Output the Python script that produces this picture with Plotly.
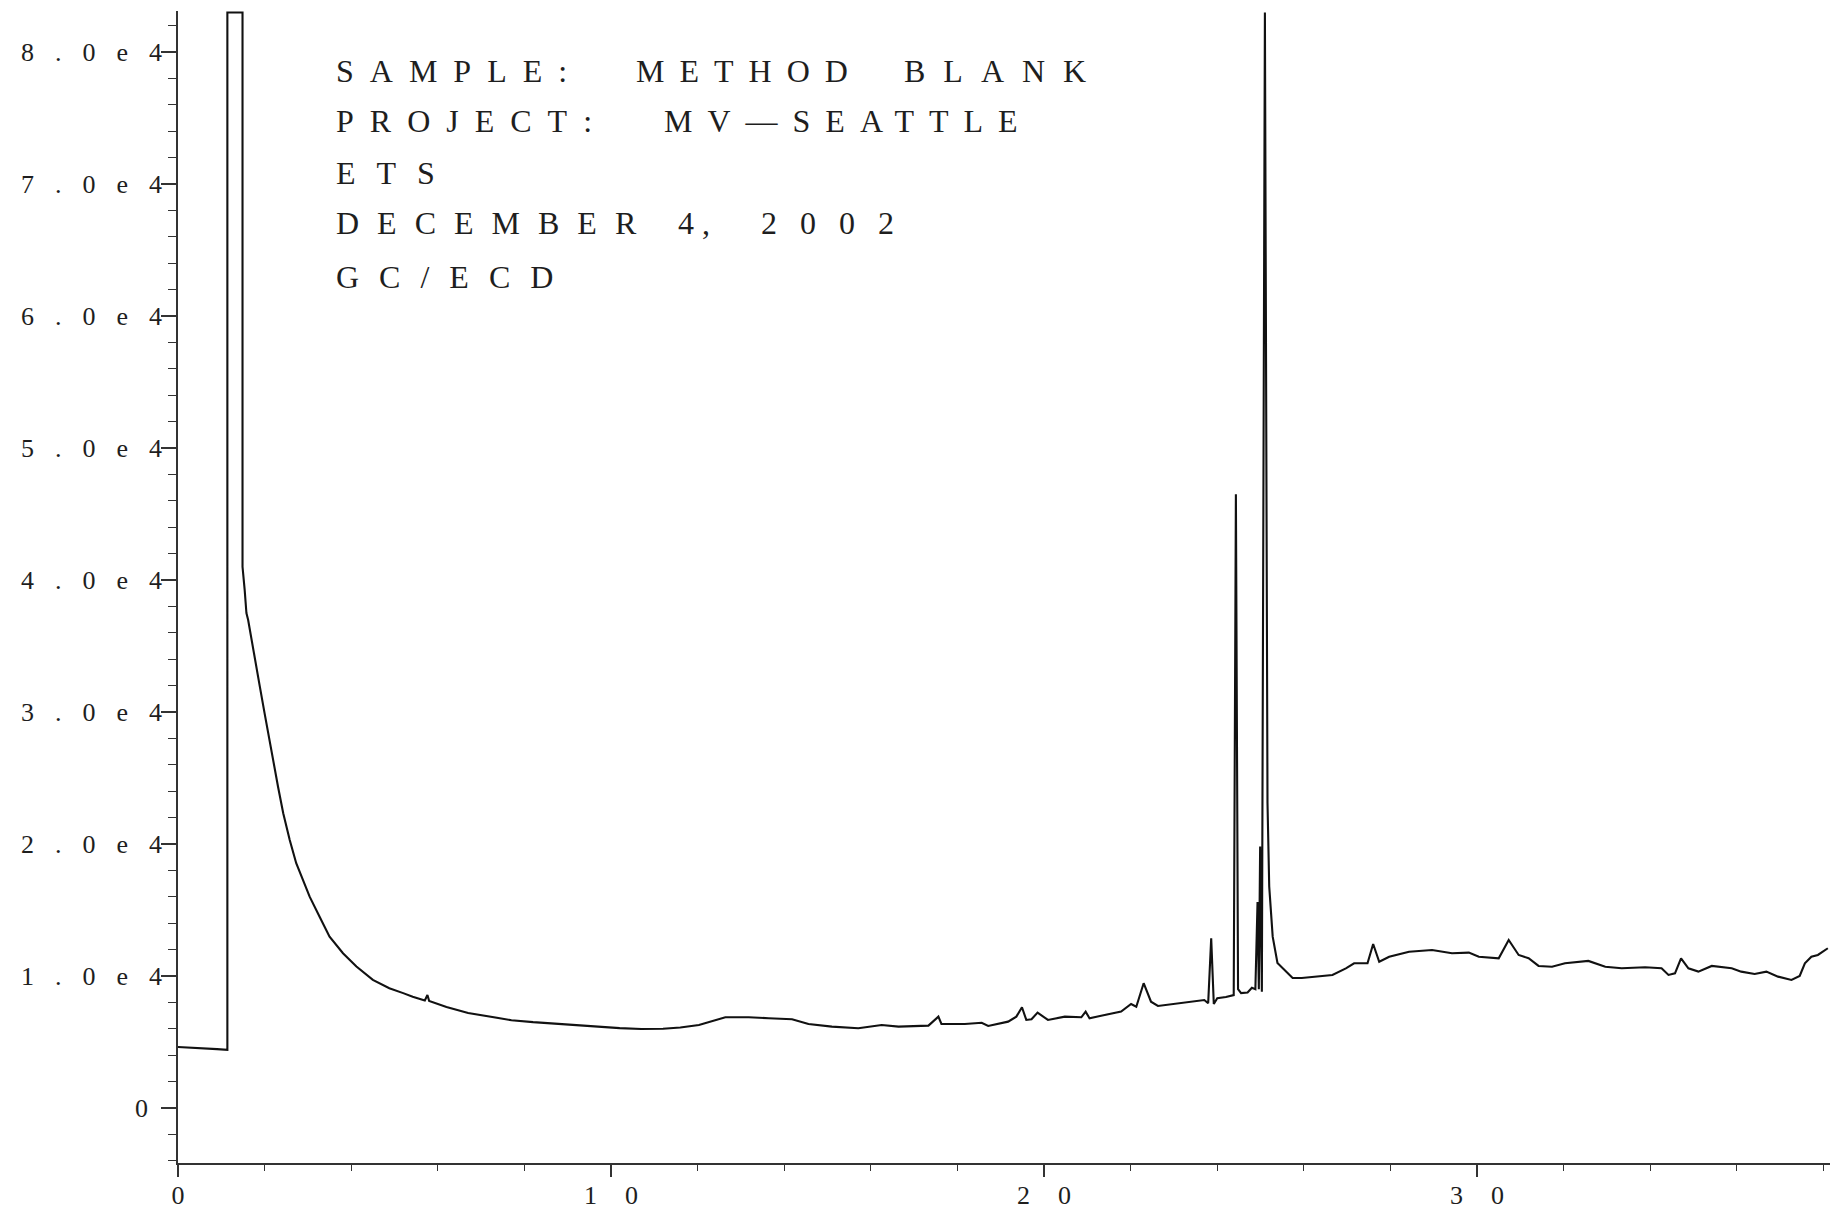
import plotly.graph_objects as go

# ---- data (retention time in minutes, detector response) ----
time_min = [
    0.00, 0.30, 0.60, 0.90, 1.14, 1.14, 1.49, 1.49, 1.54, 1.58, 1.62, 1.70, 1.735, 1.77, 1.81,
    1.89, 2.00, 2.08, 2.20, 2.31, 2.43, 2.58, 2.73, 2.89, 3.04, 3.27, 3.50, 3.81, 4.12, 4.50,
    4.88, 5.20, 5.42, 5.70, 5.76, 5.80, 6.20, 6.70, 7.20, 7.70, 8.20, 8.70, 9.20, 9.70, 10.20,
    10.70, 11.20, 11.60, 12.03, 12.64, 13.18, 13.64, 14.18, 14.56, 15.10, 15.71, 16.25, 16.64,
    17.33, 17.56, 17.63, 18.17, 18.56, 18.71, 19.17, 19.36, 19.49, 19.59, 19.71, 19.85, 20.09,
    20.48, 20.86, 20.96, 21.05, 21.40, 21.78, 22.01, 22.13, 22.30, 22.47, 22.63, 23.16, 23.70,
    23.79, 23.86, 23.92, 24.00, 24.20, 24.38, 24.43, 24.48, 24.55, 24.70, 24.80, 24.88, 24.93,
    24.96, 24.99, 25.03, 25.10, 25.16, 25.20, 25.28, 25.39, 25.55, 25.74, 25.95, 26.20, 26.66,
    26.97, 27.16, 27.47, 27.60, 27.74, 27.97, 28.43, 28.96, 29.42, 29.81, 30.04, 30.50, 30.73,
    30.96, 31.19, 31.42, 31.73, 32.03, 32.57, 32.96, 33.34, 33.88, 34.26, 34.42, 34.57, 34.71,
    34.88, 35.11, 35.42, 35.88, 36.10, 36.41, 36.68, 36.95, 37.26, 37.45, 37.57, 37.72, 37.87,
    38.03, 38.10,
]
response = [
    4620, 4580, 4520, 4460, 4400, 83000, 83000, 41000, 39240, 37500, 36970, 35400, 34950, 34200, 33430,
    31920, 29900, 28390, 26110, 24340, 22330, 20300, 18540, 17270, 16010, 14490, 12980, 11720, 10720, 9700,
    9070, 8700, 8430, 8150, 8560, 8100, 7650, 7200, 6900, 6650, 6500, 6380, 6250, 6150, 6050,
    5980, 6000, 6100, 6290, 6870, 6870, 6800, 6720, 6360, 6160, 6040, 6290, 6160,
    6240, 6920, 6360, 6360, 6460, 6210, 6540, 6920, 7630, 6670, 6720, 7220, 6670,
    6920, 6870, 7300, 6800, 7050, 7300, 7880, 7670, 9450, 8050, 7730, 7930, 8180,
    7930, 12860, 7880, 8310, 8400, 8550, 46500, 9000, 8700, 8750, 9100, 9000, 15600,
    9000, 19800, 8800, 83000, 23100, 16770, 12980, 10980, 10450, 9850, 9850, 9950, 10080,
    10580, 10960, 10960, 12420, 11080, 11460, 11840, 11970, 11720, 11770, 11460, 11340, 12730,
    11590, 11340, 10760, 10700, 10960, 11140, 10700, 10580, 10660, 10580, 10080, 10200, 11340,
    10580, 10330, 10760, 10580, 10330, 10150, 10330, 9950, 9700, 10000, 10960, 11460, 11590,
    11970, 12100,
]

x_tick_vals = [0, 10, 20, 30]
x_tick_labels = ["0", "10", "20", "30"]
y_tick_vals = [0, 10000, 20000, 30000, 40000, 50000, 60000, 70000, 80000]
y_tick_labels = ["0", "1.0e4", "2.0e4", "3.0e4", "4.0e4", "5.0e4", "6.0e4", "7.0e4", "8.0e4"]

# header words: (text, left pixel, centre pixel row, letter spacing)
header_words = [
    ("SAMPLE:", 335, 71, 16), ("METHOD", 635, 71, 15), ("BLANK", 903, 71, 18),
    ("PROJECT:", 335, 121, 16), ("MV\u2014SEATTLE", 663, 121, 15),
    ("ETS", 335, 173, 21),
    ("DECEMBER", 335, 223, 18), ("4,", 677, 223, 8), ("2002", 760, 223, 23),
    ("GC/ECD", 335, 277, 20),
]

W, H = 1835, 1217
ML, MR, MT, MB = 178, 5, 11, 54
PW, PH = W - ML - MR, H - MT - MB

TEXT_FONT = "Liberation Serif"
INK = "#1e1e1e"
AXIS = "#333333"


def spaced(word, ls):
    if len(word) < 2 or ls == 0:
        return word
    return f'<span style="letter-spacing:{ls}px">{word[:-1]}</span>{word[-1]}'


def y_label(word):
    # the single "0" label sits further left of its tick in the original print-out
    if len(word) == 1:
        return f'<span style="letter-spacing:14px">{word}</span>'
    return spaced(word, 21)


fig = go.Figure()
fig.add_trace(go.Scatter(
    x=time_min, y=response, mode="lines",
    line=dict(color="#111111", width=2.1),
    hoverinfo="skip", showlegend=False,
))

for text, px, py, ls in header_words:
    fig.add_annotation(
        text=spaced(text, ls), xref="paper", yref="paper",
        x=(px - ML) / PW, y=(H - MB - py) / PH,
        xanchor="left", yanchor="middle", showarrow=False, borderpad=0,
        font=dict(family=TEXT_FONT, size=32, color=INK),
    )

fig.update_layout(
    width=W, height=H,
    margin=dict(l=ML, r=MR, t=MT, b=MB, pad=0, autoexpand=False),
    paper_bgcolor="white", plot_bgcolor="white",
    showlegend=False,
)
fig.update_xaxes(
    range=[0, 38.15], showgrid=False, zeroline=False, automargin=False,
    showline=True, linecolor=AXIS, linewidth=1.5,
    ticks="outside", ticklen=12, tickwidth=1.5, tickcolor=AXIS,
    tickvals=x_tick_vals, ticktext=[spaced(t, 28) for t in x_tick_labels],
    tickfont=dict(family=TEXT_FONT, size=26, color=INK),
    ticklabelstandoff=-4,
    minor=dict(ticks="outside", dtick=2, tick0=0, ticklen=6, tickwidth=1.3, tickcolor=AXIS, showgrid=False),
)
fig.update_yaxes(
    range=[-4170, 83110], showgrid=False, zeroline=False, automargin=False,
    showline=True, linecolor=AXIS, linewidth=1.5,
    ticks="outside", ticklen=15, tickwidth=1.5, tickcolor=AXIS,
    tickvals=y_tick_vals, ticktext=[y_label(t) for t in y_tick_labels],
    tickfont=dict(family=TEXT_FONT, size=26, color=INK),
    ticklabelstandoff=-6,
    minor=dict(ticks="outside", dtick=2000, tick0=0, ticklen=8, tickwidth=1.3, tickcolor=AXIS, showgrid=False),
)

# the page body gets no default 8px margin, so the 1835x1217 figure fills the window exactly
fig.write_html(
    "out.html",
    config={"displayModeBar": False},
    post_script="document.body.style.margin='0';document.body.style.overflow='hidden';",
)
